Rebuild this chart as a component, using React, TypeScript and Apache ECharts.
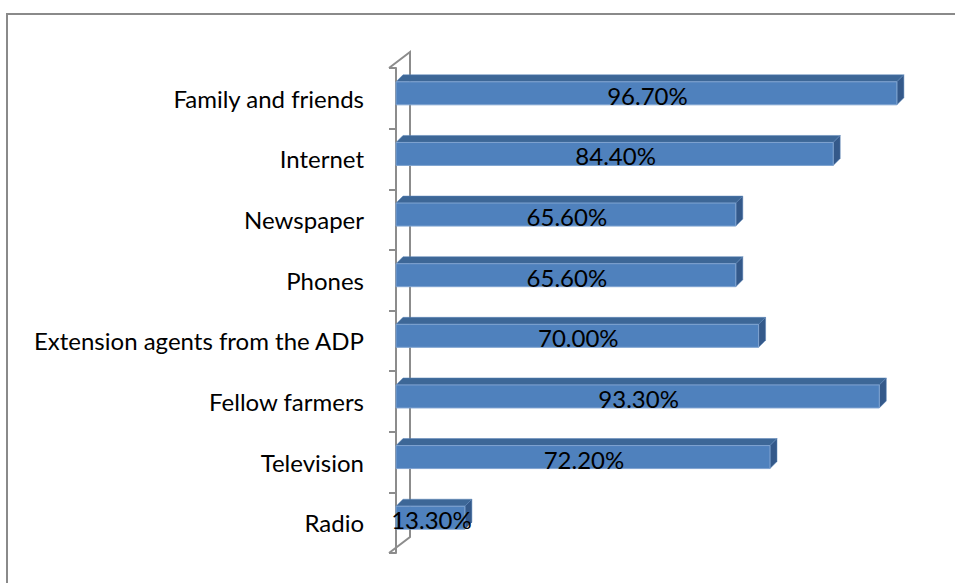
import React, { useEffect, useRef } from "react";
import * as echarts from "echarts";

const categories = [
  "Family and friends",
  "Internet",
  "Newspaper",
  "Phones",
  "Extension agents from the ADP",
  "Fellow farmers",
  "Television",
  "Radio",
];
const values = [96.7, 84.4, 65.6, 65.6, 70.0, 93.3, 72.2, 13.3];

const FRONT = "#4f81bd";
const TOP = "#3d6797";
const SIDE = "#34598a";
const WALL = "#8c8c8c";
const FONT = "Lato";

export default function App() {
  const ref = useRef<HTMLDivElement>(null);
  useEffect(() => {
    if (!ref.current) return;
    const chart = echarts.init(ref.current, undefined, { renderer: "svg" });
    const depth = 7;
    const barH = 23;
    chart.setOption({
      animation: false,
      backgroundColor: "#ffffff",
      grid: { left: 396, right: 41, top: 68, bottom: 30 },
      xAxis: { type: "value", min: 0, max: 100, show: false },
      yAxis: {
        type: "category",
        data: categories,
        inverse: true,
        offset: 7,
        axisLine: { show: true, lineStyle: { color: WALL, width: 2 } },
        axisTick: { show: true, length: 7, lineStyle: { color: WALL, width: 2 } },
        axisLabel: { margin: 25, fontFamily: FONT, fontSize: 24, color: "#000" },
        splitLine: { show: false },
      },
      graphic: [
        {
          type: "rect",
          shape: { x: 7, y: 14, width: 1200, height: 1200 },
          style: { fill: "none", stroke: "#8a8a8a", lineWidth: 2 },
          silent: true,
        },
        {
          type: "polyline",
          shape: { points: [[389, 68], [410, 52], [410, 537], [389, 553]] },
          style: { fill: "none", stroke: WALL, lineWidth: 2 },
          silent: true,
        },
      ],
      series: [
        {
          type: "custom",
          encode: { x: 0, y: 1 },
          data: values.map((v, i) => [v, i]),
          renderItem: (params: any, api: any) => {
            const v = api.value(0);
            const c = api.value(1);
            const s = api.coord([0, c]);
            const e = api.coord([v, c]);
            const cy = s[1] - 5;
            const top = cy - barH / 2;
            const bottom = cy + barH / 2;
            const x0 = s[0];
            const x1 = e[0];
            return {
              type: "group",
              children: [
                {
                  type: "polygon",
                  shape: { points: [[x0, top], [x0 + depth, top - depth], [x1 + depth, top - depth], [x1, top]] },
                  style: { fill: TOP, stroke: "#5a84b8", lineWidth: 0.5 },
                },
                {
                  type: "polygon",
                  shape: { points: [[x1, top], [x1 + depth, top - depth], [x1 + depth, bottom - depth], [x1, bottom]] },
                  style: { fill: SIDE, stroke: "#5a84b8", lineWidth: 0.5 },
                },
                {
                  type: "rect",
                  shape: { x: x0, y: top, width: x1 - x0, height: barH },
                  style: { fill: FRONT, stroke: "#7fa3d0", lineWidth: 1 },
                },
                {
                  type: "text",
                  style: {
                    x: (x0 + x1) / 2 + 1,
                    y: cy + 2,
                    text: v.toFixed(2) + "%",
                    fill: "#000",
                    fontFamily: FONT,
                    fontSize: 24,
                    align: "center",
                    verticalAlign: "middle",
                  },
                },
              ],
            };
          },
        },
      ],
    });
    return () => chart.dispose();
  }, []);
  return (
    <div
      ref={ref}
      style={{ position: "fixed", left: 0, top: 0, width: 955, height: 583, background: "#fff" }}
    />
  );
}
